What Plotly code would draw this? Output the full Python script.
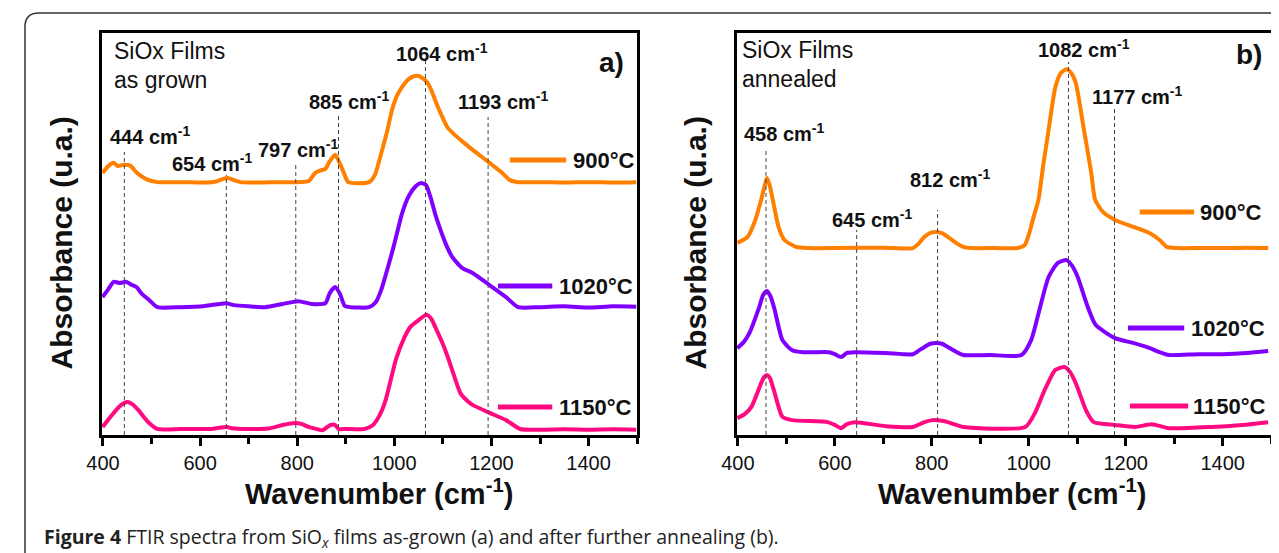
import plotly.graph_objects as go

# The page body has an 8px default margin: the figure is sized and offset to compensate.
PAGE_MARGIN = 8
W, H = 1279 - PAGE_MARGIN, 553 - PAGE_MARGIN

# ---------------- data (wavenumber in cm-1, absorbance in a.u., stacked) ----------------
a_900_x = [399, 412, 422, 430, 443, 456, 470, 490, 512, 560, 610, 631, 645, 657, 670, 683, 720, 760, 800, 824,
           837, 850, 858, 866, 878, 888, 896, 905, 948, 960, 973, 985, 995, 1005, 1016, 1030, 1042, 1050, 1060, 1067,
           1076, 1084, 1097, 1110, 1125, 1144, 1170, 1196, 1220, 1238, 1255, 1300, 1350, 1400, 1450, 1498]
a_900_y = [65.2, 67.0, 67.7, 66.9, 67.2, 67.0, 65.2, 63.6, 62.9, 62.9, 62.8, 63.0, 63.6, 63.9, 63.4, 62.9, 62.8, 62.9, 62.9, 63.2,
           65.2, 65.9, 66.2, 67.9, 69.7, 67.5, 65.2, 62.9, 62.9, 64.7, 70.1, 75.5, 80.8, 84.3, 86.6, 88.6, 89.3, 89.3, 88.6, 87.8,
           85.8, 83.3, 79.6, 76.4, 74.6, 72.6, 70.1, 67.7, 65.4, 63.4, 62.9, 62.9, 62.8, 62.9, 62.8, 62.9]

a_1020_x = [399, 410, 422, 435, 447, 460, 469, 480, 495, 512, 560, 610, 653, 670, 700, 734, 770, 802, 830, 858,
            867, 878, 888, 898, 910, 948, 962, 973, 985, 995, 1005, 1016, 1030, 1045, 1055, 1065, 1076, 1084, 1093, 1105,
            1119, 1140, 1161, 1196, 1230, 1255, 1300, 1350, 1400, 1450, 1498]
a_1020_y = [34.3, 36.1, 38.1, 37.8, 38.1, 37.3, 36.8, 35.1, 33.6, 31.8, 31.8, 32.1, 32.8, 32.3, 32.0, 31.8, 32.6, 33.3, 32.6, 32.8,
            35.3, 36.8, 35.1, 32.1, 31.8, 31.8, 33.1, 36.1, 41.0, 45.3, 50.0, 55.2, 59.5, 62.0, 62.7, 62.2, 58.5, 55.0, 51.7, 47.8,
            44.3, 41.5, 40.3, 37.3, 34.3, 31.8, 31.8, 32.0, 31.7, 32.0, 31.9]

a_1150_x = [399, 410, 427, 440, 450, 460, 473, 484, 495, 512, 560, 620, 655, 665, 700, 740, 770, 795, 810, 823,
            840, 852, 862, 869, 878, 885, 900, 938, 956, 970, 982, 995, 1003, 1020, 1033, 1050, 1066, 1076, 1084, 1100,
            1110, 1125, 1136, 1150, 1161, 1196, 1230, 1259, 1300, 1350, 1400, 1450, 1498]
a_1150_y = [2.0, 3.7, 6.2, 7.7, 8.2, 7.7, 6.2, 4.5, 3.0, 1.5, 1.5, 1.5, 2.0, 1.7, 1.5, 1.6, 2.5, 3.0, 2.7, 2.0,
            1.5, 1.2, 2.0, 2.5, 2.5, 1.5, 1.5, 1.5, 2.5, 5.0, 8.7, 14.9, 18.7, 24.1, 26.9, 28.6, 29.9, 28.9, 26.9, 22.6,
            19.4, 14.0, 10.4, 8.5, 7.5, 5.5, 3.7, 1.5, 1.3, 1.4, 1.3, 1.4, 1.3]

b_900_x = [399, 420, 436, 448, 455, 460, 466, 472, 484, 496, 520, 544, 600, 700, 761, 773, 785, 797, 809, 821,
           833, 850, 865, 881, 930, 977, 992, 1001, 1010, 1020, 1030, 1040, 1055, 1066, 1078, 1088, 1097, 1113, 1129, 1137,
           1153, 1178, 1218, 1250, 1270, 1285, 1305, 1350, 1400, 1450, 1494]
b_900_y = [47.8, 49.3, 53.5, 58.5, 61.9, 63.9, 61.9, 58.5, 51.7, 48.5, 46.8, 46.5, 46.5, 46.6, 46.5, 47.6, 49.3, 50.3, 50.5, 50.2,
           49.3, 47.8, 46.8, 46.5, 46.5, 46.5, 47.3, 50.2, 54.2, 58.5, 67.2, 75.1, 86.6, 90.0, 91.0, 90.0, 87.6, 76.6, 65.2, 58.5,
           55.5, 53.5, 51.7, 50.2, 48.5, 46.8, 46.5, 46.5, 46.5, 46.6, 46.5]

b_1020_x = [399, 412, 424, 444, 452, 460, 468, 476, 492, 512, 536, 588, 600, 613, 625, 641, 705, 761, 773, 785,
            797, 809, 821, 833, 850, 865, 920, 985, 1005, 1022, 1041, 1060, 1078, 1090, 1101, 1122, 1138, 1178, 1215, 1250,
            1270, 1289, 1350, 1400, 1450, 1494]
b_1020_y = [21.6, 23.1, 25.4, 31.8, 34.8, 35.8, 34.3, 31.1, 23.6, 21.1, 20.6, 20.6, 20.1, 19.4, 20.4, 20.6, 20.4, 20.1, 21.0, 21.9,
            22.7, 22.9, 22.7, 21.9, 20.7, 19.9, 19.9, 19.9, 23.6, 31.1, 39.3, 42.8, 43.5, 42.0, 39.3, 31.8, 27.4, 24.1, 22.9, 21.6,
            20.6, 19.9, 20.1, 20.1, 20.4, 20.9]

b_1150_x = [399, 414, 428, 448, 454, 460, 466, 476, 492, 512, 585, 600, 613, 625, 641, 705, 761, 785, 801, 817,
            833, 865, 993, 1013, 1033, 1055, 1074, 1085, 1097, 1118, 1134, 1178, 1220, 1254, 1289, 1378, 1440, 1494]
b_1150_y = [4.2, 5.2, 7.0, 12.9, 14.4, 14.9, 14.2, 10.4, 4.5, 3.7, 3.2, 2.5, 1.7, 2.7, 3.2, 2.2, 2.0, 3.2, 3.7, 3.6,
            3.2, 2.0, 2.0, 5.5, 11.2, 16.2, 16.9, 15.7, 12.9, 6.2, 3.2, 2.5, 2.0, 2.7, 1.7, 2.0, 2.5, 3.2]

series_names = ["900°C", "1020°C", "1150°C"]
peaks_a = [444, 654, 797, 885, 1064, 1193]
peaks_b = [458, 645, 812, 1082, 1177]
x_ticks = [400, 600, 800, 1000, 1200, 1400]

# ---------------- style ----------------
COLORS = {"900°C": "#FF8000", "1020°C": "#8000FF", "1150°C": "#FF0A80"}
FONT = "Liberation Sans, Arial, sans-serif"


def px(x):
    """window pixel x -> paper fraction"""
    return (x - PAGE_MARGIN) / W


def py(y):
    """window pixel y -> paper fraction"""
    return 1 - (y - PAGE_MARGIN) / H


fig = go.Figure()

panel_data = [
    ("x", "y", [(a_900_x, a_900_y), (a_1020_x, a_1020_y), (a_1150_x, a_1150_y)]),
    ("x2", "y2", [(b_900_x, b_900_y), (b_1020_x, b_1020_y), (b_1150_x, b_1150_y)]),
]
for xa, ya, curves in panel_data:
    for name, (xs, ys) in zip(series_names, curves):
        fig.add_trace(go.Scatter(
            x=xs, y=ys, mode="lines", name=name, xaxis=xa, yaxis=ya,
            line=dict(color=COLORS[name], width=4, shape="spline", smoothing=0.6),
            showlegend=False, hoverinfo="skip"))

axis_common = dict(
    range=[398, 1500], showline=True, mirror=True, linecolor="black", linewidth=3,
    ticks="outside", ticklen=8, tickwidth=3, tickcolor="black",
    tickvals=x_ticks, tickfont=dict(family=FONT, size=20, color="#111"),
    minor=dict(ticks="outside", ticklen=6, tickwidth=3, tickcolor="black", tick0=400, dtick=100),
    showgrid=False, zeroline=False, fixedrange=True,
)
yaxis_common = dict(
    range=[0, 100], showline=True, mirror=True, linecolor="black", linewidth=3,
    ticks="", showticklabels=False, showgrid=False, zeroline=False, fixedrange=True,
)

fig.update_layout(
    width=W, height=H, margin=dict(l=0, r=0, t=0, b=0),
    paper_bgcolor="white", plot_bgcolor="white",
    xaxis=dict(domain=[px(87), px(629)], anchor="y", **axis_common),
    yaxis=dict(domain=[py(435), py(33)], anchor="x", **yaxis_common),
    xaxis2=dict(domain=[px(730), px(1271)], anchor="y2", **axis_common),
    yaxis2=dict(domain=[py(435), py(33)], anchor="x2", **yaxis_common),
)

shapes = []
# dashed peak markers
tops_a = [70.4, 64.7, 67.2, 80.1, 93.3, 79.1]
tops_b = [70.9, 51.0, 56.0, 92.8, 81.6]
for xa, ya, peaks, tops in [("x", "y", peaks_a, tops_a), ("x2", "y2", peaks_b, tops_b)]:
    for p, t in zip(peaks, tops):
        shapes.append(dict(type="line", xref=xa, yref=ya, x0=p, x1=p, y0=0, y1=t,
                           line=dict(color="#444", width=1, dash="4px,3px"), layer="above"))

# legend samples
legend_items = [
    ("900°C", 500, 557, 160, 562), ("1020°C", 488, 543, 286, 548), ("1150°C", 488, 543, 407, 548),
    ("900°C", 1138, 1193, 212, 1197), ("1020°C", 1126, 1183, 328, 1188), ("1150°C", 1128, 1187, 406, 1190),
]
annotations = []
for name, x0, x1, yy, tx in legend_items:
    shapes.append(dict(type="line", xref="paper", yref="paper", x0=px(x0), x1=px(x1), y0=py(yy), y1=py(yy),
                       line=dict(color=COLORS[name], width=5)))
    annotations.append(dict(text="<b>%s</b>" % name, x=px(tx), y=py(yy), xref="paper", yref="paper",
                            xanchor="left", yanchor="middle", showarrow=False,
                            font=dict(family=FONT, size=22, color="#111")))

# outer rounded frame (top-left corner visible)
r = 14
path = "M %f,%f L %f,%f Q %f,%f %f,%f L %f,%f" % (
    px(9), py(570), px(9), py(13 + r), px(9), py(13), px(9 + r), py(13), px(1300), py(13))
shapes.append(dict(type="path", xref="paper", yref="paper", path=path, line=dict(color="#333", width=1.5)))

# peak labels (left x px, center y px)
peak_labels = [
    (peaks_a[0], 93, 135), (peaks_a[1], 156, 162), (peaks_a[2], 243, 148), (peaks_a[3], 295, 100),
    (peaks_a[4], 383, 52), (peaks_a[5], 446, 100),
    (peaks_b[0], 735, 133), (peaks_b[1], 824, 218), (peaks_b[2], 903, 178), (peaks_b[3], 1033, 49),
    (peaks_b[4], 1088, 95),
]
for p, lx, ly in peak_labels:
    annotations.append(dict(text="<b>%d cm<sup>-1</sup></b>" % p, x=px(lx), y=py(ly), xref="paper", yref="paper",
                            xanchor="left", yanchor="middle", showarrow=False,
                            font=dict(family=FONT, size=20, color="#111")))

# panel texts
texts = [
    ("SiOx Films", 97, 51, 23, False, "left"), ("as grown", 97, 80, 23, False, "left"),
    ("SiOx Films", 733, 50, 23, False, "left"), ("annealed", 733, 79, 23, False, "left"),
    ("a)", 618, 62, 28, True, "right"), ("b)", 1264, 54, 28, True, "right"),
]
for t, x, y, s, bold, anc in texts:
    annotations.append(dict(text=("<b>%s</b>" % t) if bold else t, x=px(x), y=py(y), xref="paper", yref="paper",
                            xanchor=anc, yanchor="middle", showarrow=False,
                            font=dict(family=FONT, size=s, color="#111")))

# axis titles
for cx in (368, 1009):
    annotations.append(dict(text="<b>Wavenumber (cm<sup>-1</sup>)</b>", x=px(cx), y=py(492), xref="paper", yref="paper",
                            xanchor="center", yanchor="middle", showarrow=False,
                            font=dict(family=FONT, size=29, color="#111")))
for cx in (45, 688):
    annotations.append(dict(text="<b>Absorbance (u.a.)</b>", x=px(cx), y=py(243), xref="paper", yref="paper",
                            xanchor="center", yanchor="middle", showarrow=False, textangle=-90,
                            font=dict(family=FONT, size=30, color="#111")))

# caption
annotations.append(dict(
    text="<b>Figure 4</b> FTIR spectra from SiO<sub><i>x</i></sub> films as-grown (a) and after further annealing (b).",
    x=px(26), y=py(537), xref="paper", yref="paper", xanchor="left", yanchor="middle", showarrow=False,
    font=dict(family="Open Sans, sans-serif", size=19.5, color="#222")))

fig.update_layout(shapes=shapes, annotations=annotations)
fig.write_html("out.html")
